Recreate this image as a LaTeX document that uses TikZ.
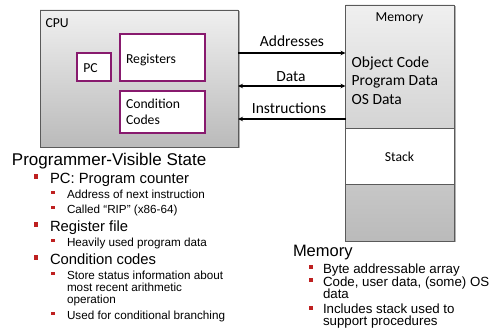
\documentclass[tikz,border=0pt]{standalone}
\usepackage{fontspec}
\setmainfont{Liberation Sans}
\newfontfamily\calfont{Carlito}
\newfontfamily\arialfont{Liberation Sans}
\usetikzlibrary{arrows.meta}
\definecolor{boxpurple}{RGB}{136,26,110}
\definecolor{bulletred}{RGB}{190,32,32}
\definecolor{edgegray}{RGB}{90,90,90}
\begin{document}
\begin{tikzpicture}[x=1pt,y=-1pt,
  every node/.style={inner sep=0pt,outer sep=0pt},
  unitbox/.style={draw=edgegray,line width=0.9pt,top color=black!6,bottom color=black!27,anchor=north west},
  shadowbox/.style={fill=black!55,opacity=0.55,anchor=north west},
  regbox/.style={draw=boxpurple,line width=1.5pt,fill=white,anchor=north west},
  stackbox/.style={draw=edgegray,line width=0.9pt,fill=white,anchor=north west},
  smalllbl/.style={font=\calfont\fontsize{13.7}{16}\selectfont},
  biglbl/.style={font=\calfont\fontsize{15.5}{18}\selectfont},
  titletxt/.style={font=\arialfont\fontsize{17}{20}\selectfont,anchor=base west},
  itemone/.style={font=\arialfont\fontsize{14.8}{17}\selectfont,anchor=base west},
  itemtwo/.style={font=\arialfont\fontsize{11.7}{14}\selectfont,anchor=base west},
  memitem/.style={font=\arialfont\fontsize{13.3}{15}\selectfont,anchor=base west},
  bulone/.style={fill=bulletred,minimum size=4.5pt},
  bultwo/.style={fill=bulletred,minimum size=3.3pt},
  bus/.style={line width=1.2pt,draw=black},
  tip/.style={-{Stealth[length=5pt,width=4.5pt]}}
]
\useasboundingbox (0,0) rectangle (492,336);

% CPU block with its shadow
\node[shadowbox,minimum width=198pt,minimum height=137pt] (cpushadow) at (41.5,11.5) {};
\node[unitbox,minimum width=198pt,minimum height=137pt] (cpu) at (40,10) {};
\node[smalllbl,anchor=base west] (cpulbl) at (45.5,27.2) {CPU};

% registers inside the CPU
\node[regbox,minimum width=34pt,minimum height=28pt] (pc) at (77,53) {};
\node[smalllbl,anchor=base west] (pclbl) at (83.3,72.5) {PC};
\node[regbox,minimum width=85pt,minimum height=47pt] (regs) at (120,34) {};
\node[smalllbl,anchor=base west] (regslbl) at (126,63.5) {Registers};
\node[regbox,minimum width=85pt,minimum height=42pt] (cc) at (120,91) {};
\node[smalllbl,anchor=base west] (cclbl1) at (126,108.5) {Condition};
\node[smalllbl,anchor=base west] (cclbl2) at (126,124.5) {Codes};

% memory block
\node[shadowbox,minimum width=108.5pt,minimum height=236pt] (memshadow) at (347,6.5) {};
\node[unitbox,minimum width=108.5pt,minimum height=236pt] (mem) at (345.5,5) {};
\node[stackbox,minimum width=108.5pt,minimum height=56pt] (stack) at (345.5,128) {};
\node[smalllbl,anchor=base] (memlbl) at (399.5,21.5) {Memory};
\node[biglbl,anchor=base west] (objcode) at (351.7,67.1) {Object Code};
\node[biglbl,anchor=base west] (progdata) at (351.7,85.6) {Program Data};
\node[biglbl,anchor=base west] (osdata) at (351.7,104.1) {OS Data};
\node[smalllbl,anchor=base] (stacklbl) at (399.5,161.5) {Stack};

% buses between CPU and memory
\coordinate (yaddr) at (0,53);
\coordinate (ydata) at (0,86);
\coordinate (yinstr) at (0,119);
\draw[bus,tip] (cpu.east |- yaddr) -- (mem.west |- yaddr);
\draw[bus,{Stealth[length=5pt,width=4.5pt]}-{Stealth[length=5pt,width=4.5pt]}] (cpu.east |- ydata) -- (mem.west |- ydata);
\draw[bus,tip] (mem.west |- yinstr) -- (cpu.east |- yinstr);
\node[biglbl,anchor=base] (addrlbl) at (292,46.1) {Addresses};
\node[biglbl,anchor=base] (datalbl) at (291,81.1) {Data};
\node[biglbl,anchor=base] (instrlbl) at (289,113.1) {Instructions};

% programmer-visible state list
\node[titletxt] (pvs) at (12,165.1) {Programmer-Visible State};
\node[bulone] (b1) at (36,176.5) {};
\node[itemone] (t1) at (50,183.3) {PC: Program counter};
\node[bultwo] (b11) at (53,192.5) {};
\node[itemtwo] (t11) at (67,198.2) {Address of next instruction};
\node[bultwo] (b12) at (53,207.5) {};
\node[itemtwo] (t12) at (67,213.2) {Called “RIP” (x86-64)};
\node[bulone] (b2) at (36,224.5) {};
\node[itemone] (t2) at (50,231.3) {Register file};
\node[bultwo] (b21) at (53,240.5) {};
\node[itemtwo] (t21) at (67,246.2) {Heavily used program data};
\node[bulone] (b3) at (36,257.5) {};
\node[itemone] (t3) at (50,264.3) {Condition codes};
\node[bultwo] (b31) at (53,273.5) {};
\node[itemtwo] (t31a) at (67,279.2) {Store status information about};
\node[itemtwo] (t31b) at (67,291.2) {most recent arithmetic};
\node[itemtwo] (t31c) at (67,303.2) {operation};
\node[bultwo] (b32) at (53,313.5) {};
\node[itemtwo] (t32) at (67,319.2) {Used for conditional branching};

% memory list
\node[titletxt,font=\arialfont\fontsize{16.5}{19}\selectfont] (memtitle) at (293,257) {Memory};
\node[bulone,minimum size=4pt] (m1) at (311,267.5) {};
\node[memitem] (mt1) at (323,273.8) {Byte addressable array};
\node[bulone,minimum size=4pt] (m2) at (311,280.5) {};
\node[memitem] (mt2a) at (323,286.8) {Code, user data, (some) OS};
\node[memitem] (mt2b) at (323,298.8) {data};
\node[bulone,minimum size=4pt] (m3) at (311,307.5) {};
\node[memitem] (mt3a) at (323,313.8) {Includes stack used to};
\node[memitem] (mt3b) at (323,325.8) {support procedures};
\end{tikzpicture}
\end{document}
